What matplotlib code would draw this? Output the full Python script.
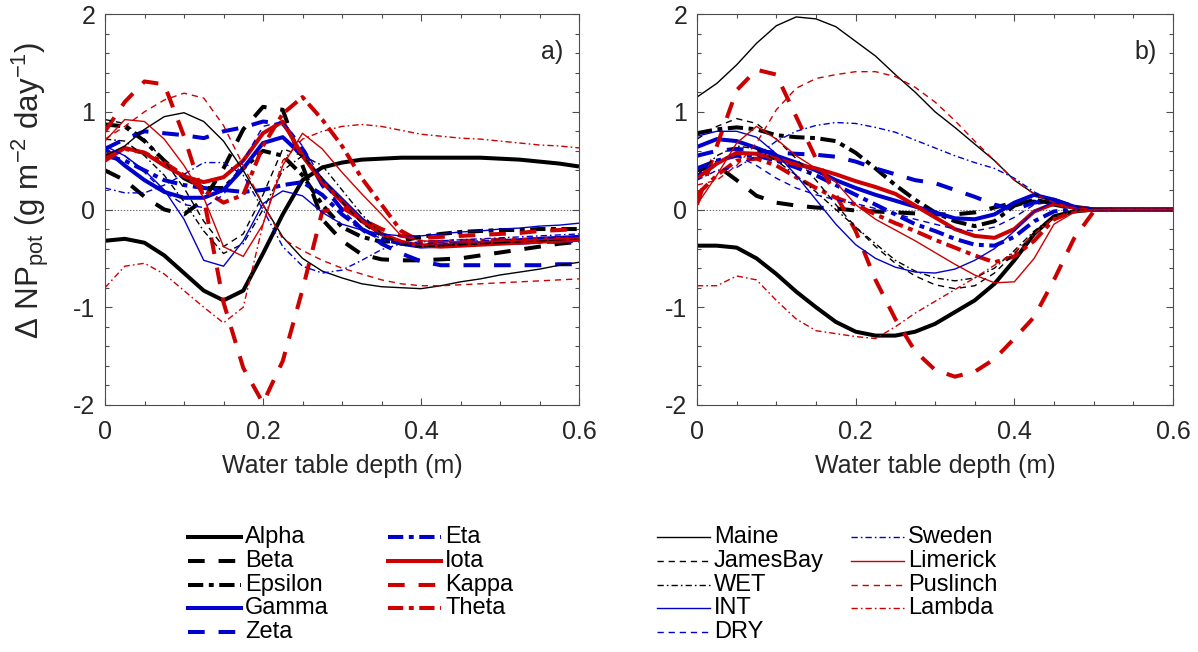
import matplotlib
matplotlib.use("Agg")
import matplotlib.pyplot as plt
from matplotlib.lines import Line2D
from matplotlib.ticker import MultipleLocator, FixedLocator

# ---------------- data ----------------
depth = [0.000, 0.025, 0.050, 0.075, 0.100, 0.125, 0.150, 0.175, 0.200, 0.225,
         0.250, 0.275, 0.300, 0.325, 0.350, 0.375, 0.400, 0.425, 0.450, 0.475,
         0.500, 0.525, 0.550, 0.575, 0.600]

series_names = ["Alpha", "Beta", "Epsilon", "Gamma", "Zeta", "Eta", "Iota", "Kappa", "Theta",
                "Maine", "JamesBay", "WET", "INT", "DRY", "Sweden", "Limerick", "Puslinch", "Lambda"]

# panel a)
alpha_a = [-0.32, -0.30, -0.34, -0.47, -0.65, -0.83, -0.93, -0.83, -0.45, -0.05, 0.30, 0.43, 0.48, 0.51, 0.52, 0.53, 0.53, 0.53, 0.53, 0.53, 0.52, 0.51, 0.49, 0.47, 0.44]
beta_a = [0.40, 0.30, 0.13, 0.00, -0.05, 0.10, 0.42, 0.82, 1.05, 1.02, 0.45, -0.10, -0.32, -0.46, -0.51, -0.52, -0.52, -0.51, -0.50, -0.47, -0.44, -0.41, -0.38, -0.35, -0.33]
epsilon_a = [0.87, 0.85, 0.70, 0.50, 0.32, 0.22, 0.22, 0.42, 0.60, 0.55, 0.35, 0.05, -0.18, -0.28, -0.33, -0.32, -0.28, -0.25, -0.23, -0.22, -0.21, -0.21, -0.20, -0.20, -0.20]
gamma_a = [0.62, 0.45, 0.30, 0.18, 0.12, 0.12, 0.20, 0.42, 0.68, 0.74, 0.55, 0.30, 0.10, -0.10, -0.25, -0.35, -0.38, -0.37, -0.36, -0.35, -0.33, -0.32, -0.30, -0.29, -0.28]
zeta_a = [0.62, 0.72, 0.80, 0.78, 0.76, 0.73, 0.80, 0.84, 0.90, 0.88, 0.62, 0.25, 0.00, -0.20, -0.35, -0.45, -0.53, -0.57, -0.57, -0.57, -0.57, -0.57, -0.57, -0.56, -0.56]
eta_a = [0.55, 0.50, 0.40, 0.30, 0.25, 0.22, 0.20, 0.18, 0.20, 0.25, 0.28, 0.15, -0.05, -0.20, -0.30, -0.35, -0.37, -0.36, -0.35, -0.35, -0.34, -0.34, -0.33, -0.33, -0.32]
iota_a = [0.50, 0.63, 0.58, 0.45, 0.34, 0.28, 0.33, 0.50, 0.78, 0.90, 0.55, 0.28, 0.08, -0.12, -0.25, -0.33, -0.37, -0.38, -0.37, -0.36, -0.35, -0.34, -0.33, -0.32, -0.31]
kappa_a = [0.80, 1.10, 1.31, 1.28, 0.75, 0.12, -0.95, -1.62, -1.98, -1.55, -0.82, -0.02, 0.02, -0.10, -0.20, -0.27, -0.29, -0.28, -0.27, -0.26, -0.25, -0.24, -0.22, -0.21, -0.20]
theta_a = [0.55, 0.62, 0.58, 0.48, 0.35, 0.20, 0.07, 0.15, 0.65, 0.98, 1.15, 0.92, 0.65, 0.32, 0.05, -0.22, -0.33, -0.33, -0.32, -0.32, -0.31, -0.31, -0.30, -0.30, -0.30]
maine_a = [0.55, 0.65, 0.82, 0.95, 0.99, 0.90, 0.70, 0.40, 0.05, -0.28, -0.50, -0.63, -0.70, -0.76, -0.79, -0.80, -0.81, -0.78, -0.74, -0.71, -0.67, -0.64, -0.61, -0.57, -0.54]
jamesbay_a = [0.92, 0.88, 0.72, 0.50, 0.22, -0.12, -0.38, -0.25, 0.15, 0.62, 0.55, 0.32, 0.08, -0.14, -0.28, -0.36, -0.38, -0.37, -0.36, -0.35, -0.34, -0.33, -0.32, -0.31, -0.30]
wet_a = [0.72, 0.70, 0.55, 0.35, 0.08, -0.22, -0.45, -0.35, 0.00, 0.40, 0.55, 0.45, 0.20, -0.05, -0.25, -0.35, -0.38, -0.37, -0.36, -0.35, -0.34, -0.33, -0.32, -0.31, -0.30]
int_a = [0.65, 0.55, 0.40, 0.20, -0.10, -0.52, -0.58, -0.32, 0.06, 0.19, 0.14, -0.03, -0.15, -0.21, -0.25, -0.27, -0.27, -0.25, -0.23, -0.22, -0.20, -0.19, -0.17, -0.16, -0.14]
dry_a = [0.65, 0.55, 0.38, 0.18, 0.05, 0.02, 0.15, 0.50, 0.85, 0.90, 0.65, 0.30, 0.00, -0.20, -0.30, -0.35, -0.35, -0.34, -0.33, -0.32, -0.31, -0.30, -0.29, -0.29, -0.28]
sweden_a = [0.22, 0.17, 0.17, 0.25, 0.36, 0.48, 0.48, 0.35, 0.00, -0.38, -0.58, -0.65, -0.62, -0.52, -0.41, -0.35, -0.33, -0.32, -0.31, -0.30, -0.29, -0.28, -0.27, -0.26, -0.25]
limerick_a = [0.70, 0.92, 0.90, 0.72, 0.45, 0.12, -0.38, -0.48, -0.15, 0.45, 0.78, 0.62, 0.38, 0.16, -0.05, -0.27, -0.32, -0.33, -0.33, -0.33, -0.32, -0.32, -0.31, -0.30, -0.29]
puslinch_a = [0.72, 0.85, 1.00, 1.12, 1.19, 1.14, 0.86, 0.45, 0.05, -0.30, -0.42, -0.52, -0.60, -0.66, -0.72, -0.76, -0.78, -0.78, -0.77, -0.76, -0.75, -0.74, -0.73, -0.72, -0.71]
lambda_a = [-0.80, -0.58, -0.55, -0.66, -0.83, -1.00, -1.16, -1.00, -0.15, 0.50, 0.72, 0.80, 0.85, 0.87, 0.85, 0.81, 0.77, 0.75, 0.73, 0.72, 0.70, 0.68, 0.66, 0.65, 0.63]

# panel b)
alpha_b = [-0.37, -0.37, -0.39, -0.50, -0.66, -0.84, -1.00, -1.15, -1.25, -1.29, -1.29, -1.25, -1.17, -1.05, -0.93, -0.76, -0.52, -0.25, -0.07, -0.02, 0.00, 0.00, 0.00, 0.00, 0.00]
beta_b = [0.40, 0.45, 0.30, 0.14, 0.07, 0.04, 0.02, 0.01, -0.01, -0.02, -0.03, -0.04, -0.05, -0.05, -0.03, 0.02, 0.07, 0.08, 0.05, 0.01, 0.00, 0.00, 0.00, 0.00, 0.00]
epsilon_b = [0.78, 0.82, 0.84, 0.82, 0.76, 0.74, 0.73, 0.70, 0.58, 0.42, 0.25, 0.10, -0.03, -0.12, -0.17, -0.12, 0.04, 0.10, 0.06, 0.02, 0.00, 0.00, 0.00, 0.00, 0.00]
gamma_b = [0.64, 0.72, 0.70, 0.63, 0.55, 0.48, 0.40, 0.30, 0.22, 0.15, 0.09, 0.03, -0.03, -0.09, -0.10, -0.05, 0.07, 0.15, 0.10, 0.03, 0.00, 0.00, 0.00, 0.00, 0.00]
zeta_b = [0.55, 0.60, 0.62, 0.60, 0.58, 0.57, 0.56, 0.54, 0.49, 0.42, 0.36, 0.30, 0.27, 0.20, 0.13, 0.05, 0.00, 0.07, 0.10, 0.03, 0.00, 0.00, 0.00, 0.00, 0.00]
eta_b = [0.42, 0.50, 0.55, 0.55, 0.50, 0.43, 0.35, 0.25, 0.15, 0.05, -0.05, -0.15, -0.22, -0.30, -0.36, -0.37, -0.28, -0.12, -0.02, 0.00, 0.00, 0.00, 0.00, 0.00, 0.00]
iota_b = [0.32, 0.47, 0.58, 0.57, 0.52, 0.46, 0.42, 0.36, 0.29, 0.23, 0.16, 0.04, -0.08, -0.20, -0.27, -0.29, -0.20, -0.02, 0.06, 0.02, 0.00, 0.00, 0.00, 0.00, 0.00]
kappa_b = [0.05, 0.65, 1.22, 1.43, 1.38, 0.95, 0.52, 0.15, -0.22, -0.72, -1.12, -1.45, -1.64, -1.71, -1.66, -1.53, -1.32, -1.10, -0.72, -0.30, -0.02, 0.00, 0.00, 0.00, 0.00]
theta_b = [0.15, 0.35, 0.50, 0.52, 0.45, 0.33, 0.22, 0.12, 0.05, -0.05, -0.14, -0.22, -0.31, -0.39, -0.47, -0.54, -0.48, -0.32, -0.10, -0.02, 0.00, 0.00, 0.00, 0.00, 0.00]
maine_b = [1.15, 1.29, 1.48, 1.70, 1.88, 1.97, 1.95, 1.87, 1.72, 1.57, 1.38, 1.20, 1.00, 0.84, 0.67, 0.50, 0.30, 0.16, 0.07, 0.03, 0.01, 0.00, 0.00, 0.00, 0.00]
jamesbay_b = [0.72, 0.85, 0.93, 0.88, 0.72, 0.52, 0.30, 0.05, -0.18, -0.38, -0.55, -0.68, -0.77, -0.81, -0.78, -0.65, -0.45, -0.25, -0.08, -0.01, 0.00, 0.00, 0.00, 0.00, 0.00]
wet_b = [0.35, 0.55, 0.65, 0.62, 0.50, 0.35, 0.18, 0.00, -0.18, -0.35, -0.52, -0.63, -0.70, -0.73, -0.70, -0.60, -0.42, -0.22, -0.07, -0.01, 0.00, 0.00, 0.00, 0.00, 0.00]
int_b = [0.75, 0.80, 0.80, 0.74, 0.57, 0.35, 0.10, -0.15, -0.36, -0.50, -0.59, -0.64, -0.65, -0.61, -0.52, -0.40, -0.22, -0.02, 0.08, 0.03, 0.00, 0.00, 0.00, 0.00, 0.00]
dry_b = [0.35, 0.50, 0.55, 0.45, 0.32, 0.22, 0.15, 0.10, 0.06, 0.01, -0.04, -0.10, -0.15, -0.20, -0.22, -0.18, -0.08, 0.05, 0.08, 0.02, 0.00, 0.00, 0.00, 0.00, 0.00]
sweden_b = [0.30, 0.40, 0.43, 0.55, 0.70, 0.80, 0.86, 0.89, 0.88, 0.84, 0.79, 0.71, 0.63, 0.55, 0.48, 0.42, 0.32, 0.18, 0.08, 0.02, 0.00, 0.00, 0.00, 0.00, 0.00]
limerick_b = [0.05, 0.35, 0.68, 0.85, 0.72, 0.55, 0.42, 0.28, 0.05, -0.10, -0.21, -0.32, -0.44, -0.56, -0.67, -0.75, -0.74, -0.50, -0.15, -0.03, 0.00, 0.00, 0.00, 0.00, 0.00]
puslinch_b = [0.25, 0.30, 0.45, 0.68, 1.02, 1.24, 1.34, 1.38, 1.41, 1.41, 1.36, 1.25, 1.10, 0.91, 0.70, 0.50, 0.30, 0.16, 0.07, 0.02, 0.00, 0.00, 0.00, 0.00, 0.00]
lambda_b = [-0.78, -0.78, -0.68, -0.72, -0.93, -1.12, -1.24, -1.27, -1.30, -1.32, -1.20, -1.06, -0.94, -0.82, -0.70, -0.57, -0.44, -0.25, -0.08, -0.02, 0.00, 0.00, 0.00, 0.00, 0.00]

x_ticks = [0, 0.2, 0.4, 0.6]
x_tick_labels = ["0", "0.2", "0.4", "0.6"]
y_ticks = [-2, -1, 0, 1, 2]
y_tick_labels = ["-2", "-1", "0", "1", "2"]
panel_labels = ["a)", "b)"]
x_label = "Water table depth (m)"
y_label = r"Δ NP$_{\mathregular{pot}}$ (g m$^{\mathregular{-2}}$ day$^{\mathregular{-1}}$)"

panel_a = [alpha_a, beta_a, epsilon_a, gamma_a, zeta_a, eta_a, iota_a, kappa_a, theta_a,
           maine_a, jamesbay_a, wet_a, int_a, dry_a, sweden_a, limerick_a, puslinch_a, lambda_a]
panel_b = [alpha_b, beta_b, epsilon_b, gamma_b, zeta_b, eta_b, iota_b, kappa_b, theta_b,
           maine_b, jamesbay_b, wet_b, int_b, dry_b, sweden_b, limerick_b, puslinch_b, lambda_b]

# ---------------- styles ----------------
plt.rcParams["font.family"] = ["Liberation Sans", "DejaVu Sans"]
plt.rcParams["mathtext.fontset"] = "custom"
plt.rcParams["mathtext.rm"] = "Liberation Sans"
plt.rcParams["mathtext.default"] = "regular"
plt.rcParams["axes.unicode_minus"] = False
plt.rcParams["lines.scale_dashes"] = False

BLACK, BLUE, RED = "#000000", "#0000CC", "#CC0000"
THICK, THIN = 2.9, 1.0
D_THICK = (0, (12, 10))
DD_THICK = (0, (11, 4, 3.5, 4))
D_THIN = (0, (4.5, 3.5))
DD_THIN = (0, (4.5, 2.2, 1.2, 2.2))
styles = [
    (BLACK, THICK, "-"), (BLACK, THICK, D_THICK), (BLACK, THICK, DD_THICK),
    (BLUE, THICK, "-"), (BLUE, THICK, D_THICK), (BLUE, THICK, DD_THICK),
    (RED, THICK, "-"), (RED, THICK, D_THICK), (RED, THICK, DD_THICK),
    (BLACK, THIN, "-"), (BLACK, THIN, D_THIN), (BLACK, THIN, DD_THIN),
    (BLUE, THIN, "-"), (BLUE, THIN, D_THIN), (BLUE, THIN, DD_THIN),
    (RED, THIN, "-"), (RED, THIN, D_THIN), (RED, THIN, DD_THIN),
]

W, H = 1198, 652
fig = plt.figure(figsize=(W / 100, H / 100), dpi=100)
ax_a = fig.add_axes([105 / W, 1 - 405 / H, 474 / W, 391 / H])
ax_b = fig.add_axes([697 / W, 1 - 405 / H, 476 / W, 391 / H])

TICK_FS = 18
TEXT_COLOR = "#262626"
for ax, data, plab in zip([ax_a, ax_b], [panel_a, panel_b], panel_labels):
    ax.axhline(0, color="#707070", lw=0.8, ls=(0, (1, 1.2)), zorder=1)
    for ys, (c, lw, ls) in zip(data, styles):
        ax.plot(depth, ys, color=c, lw=lw, linestyle=ls, dash_capstyle="butt",
                solid_capstyle="butt", solid_joinstyle="round", zorder=2)
    ax.set_xlim(0, 0.6)
    ax.set_ylim(-2, 2)
    ax.xaxis.set_major_locator(FixedLocator(x_ticks))
    ax.set_xticklabels(x_tick_labels)
    ax.yaxis.set_major_locator(FixedLocator(y_ticks))
    ax.set_yticklabels(y_tick_labels)
    ax.xaxis.set_minor_locator(MultipleLocator(0.05))
    ax.yaxis.set_minor_locator(MultipleLocator(0.2))
    ax.tick_params(which="both", direction="in", top=True, right=True,
                   color="#4d4d4d", width=0.8, labelsize=TICK_FS, labelcolor=TEXT_COLOR)
    ax.tick_params(which="major", length=5)
    ax.tick_params(which="minor", length=3)
    ax.tick_params(axis="x", which="major", pad=11)
    ax.tick_params(axis="y", which="major", pad=7)
    for sp in ax.spines.values():
        sp.set_color("#4d4d4d")
        sp.set_linewidth(0.8)
    ax.set_xlabel(x_label, fontsize=18, color=TEXT_COLOR, labelpad=7)
    ax.text(0.943, 0.903, plab, transform=ax.transAxes, ha="center", va="center",
            fontsize=18, color=TEXT_COLOR)

fig.text(30 / W, 1 - 190 / H, y_label, rotation=90, ha="center", va="center",
         fontsize=22.5, color=TEXT_COLOR)

# ---------------- legend (manual, four columns) ----------------
col_x = [188, 388, 657, 851]
row_y = [537, 561, 585, 608, 632]
handle_len = 53
columns = [[0, 1, 2, 3, 4], [5, 6, 7, 8], [9, 10, 11, 12, 13], [14, 15, 16, 17]]
for cx, idxs in zip(col_x, columns):
    for r, i in enumerate(idxs):
        c, lw, ls = styles[i]
        y = 1 - row_y[r] / H
        fig.add_artist(Line2D([cx / W, (cx + handle_len) / W], [y, y], transform=fig.transFigure,
                              color=c, lw=lw, linestyle=ls, dash_capstyle="butt"))
        fig.text((cx + handle_len + 4) / W, y, series_names[i], ha="left", va="center",
                 fontsize=17, color="#000000")

fig.savefig("out.png", dpi=100)
